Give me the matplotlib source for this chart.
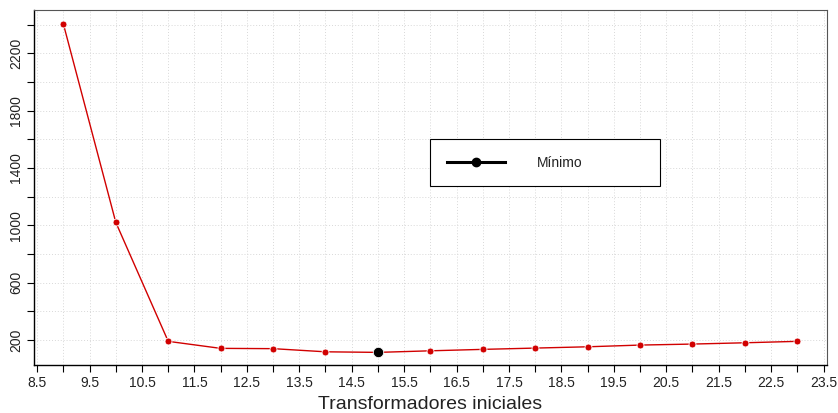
import matplotlib
matplotlib.use("Agg")
import matplotlib.pyplot as plt
import numpy as np
from matplotlib.lines import Line2D

plt.rcParams["font.family"] = ["Liberation Sans", "DejaVu Sans"]

# data
transformadores = [9, 10, 11, 12, 13, 14, 15, 16, 17, 18, 19, 20, 21, 22, 23]
valores = [2405, 1021, 191, 142, 140, 118, 114, 125, 135, 144, 153, 165, 172, 181, 191]
x_min, y_min = 15, 114

xticks_major = np.arange(8.5, 23.51, 1.0)
xticks_minor = np.arange(9, 23.01, 1.0)
yticks_major = [200, 600, 1000, 1400, 1800, 2200]
yticks_minor = [400, 800, 1200, 1600, 2000, 2400]

fig = plt.figure(figsize=(8.38, 4.13), dpi=100)
ax = fig.add_axes([34 / 838, 48 / 413, 792.7 / 838, 355 / 413])

red = "#d10000"
ax.plot(transformadores, valores, "-", color=red, lw=1.0, zorder=3)
ax.plot(transformadores, valores, "o", color=red, ms=5, mec="white", mew=0.6, zorder=4)
ax.plot([x_min], [y_min], "o", color="black", ms=7.5, mec="white", mew=0.6, zorder=5)

ax.set_xlim(8.44, 23.56)
ax.set_ylim(26, 2502)

ax.set_xticks(xticks_major)
ax.set_xticklabels([f"{v:.1f}" for v in xticks_major])
ax.set_xticks(xticks_minor, minor=True)
ax.set_yticks(yticks_major)
ax.set_yticks(yticks_minor, minor=True)
for lab in ax.get_yticklabels():
    lab.set_rotation(90)
    lab.set_va("center")

ax.tick_params(axis="both", which="both", length=5, width=0.8, labelsize=10,
               colors="black", labelcolor="#222222")
ax.tick_params(axis="x", pad=3)
ax.tick_params(axis="y", pad=3)

ax.grid(True, which="both", color="#d8d8d8", linestyle=(0, (1, 2)), lw=0.7)
ax.set_axisbelow(True)

for s in ("left", "bottom"):
    ax.spines[s].set_color("black")
    ax.spines[s].set_linewidth(1.0)
for s in ("top", "right"):
    ax.spines[s].set_color("#555555")
    ax.spines[s].set_linewidth(0.8)

ax.set_xlabel("Transformadores iniciales", fontsize=14, color="#222222", labelpad=4)

handle = Line2D([], [], color="black", lw=2.2, marker="o", ms=6)
leg_top = 1 - 129 / 355
leg_bot = 1 - 176 / 355
leg = ax.legend([handle], ["Mínimo"], loc="upper left", mode="expand",
                bbox_to_anchor=(396 / 792.7, leg_bot, 230 / 792.7, leg_top - leg_bot),
                fontsize=10, frameon=True, fancybox=False, borderpad=1.2,
                handlelength=4.2, handletextpad=2.3, borderaxespad=0)
leg.get_frame().set_edgecolor("black")
leg.get_frame().set_linewidth(0.8)
leg.get_frame().set_alpha(1)
for t in leg.get_texts():
    t.set_color("#222222")

fig.savefig("out.png", dpi=100)
